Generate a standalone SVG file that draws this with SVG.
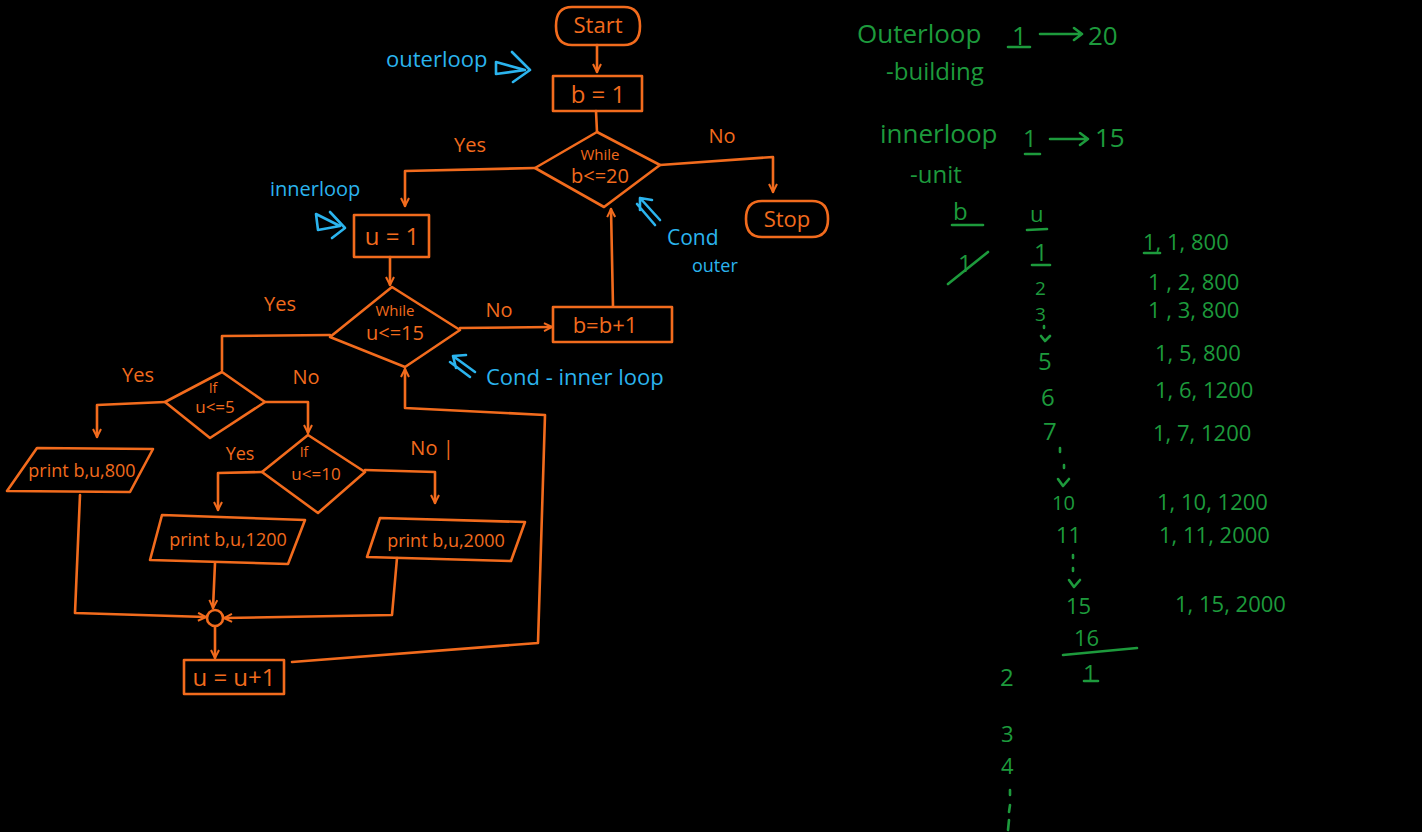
<svg xmlns="http://www.w3.org/2000/svg" width="1422" height="832" viewBox="0 0 1422 832">
<defs>
<style>
.o{fill:none;stroke:#f26b1d;stroke-width:2.6;stroke-linecap:round;stroke-linejoin:round}
.b{fill:none;stroke:#2bb4ee;stroke-width:2.6;stroke-linecap:round;stroke-linejoin:round}
.g{fill:none;stroke:#1d9a3c;stroke-width:2.6;stroke-linecap:round;stroke-linejoin:round}
.to{fill:#f26b1d;font-family:"Open Sans","Liberation Sans",sans-serif;text-anchor:middle}
.tb{fill:#2bb4ee;font-family:"Open Sans","Liberation Sans",sans-serif}
.tg{fill:#1d9a3c;font-family:"Open Sans","Liberation Sans",sans-serif}
</style>
<marker id="ar" viewBox="0 0 10 10" refX="9" refY="5" markerWidth="10" markerHeight="10" markerUnits="userSpaceOnUse" orient="auto">
<path d="M1,1 L9,5 L1,9" fill="none" stroke="#f26b1d" stroke-width="2"/>
</marker>
</defs>
<rect width="1422" height="832" fill="#000"/>

<g id="connectors">
<path class="o" d="M597,45 L597,72" marker-end="url(#ar)"/>
<path class="o" d="M596,111 L597,132"/>
<path class="o" d="M535,168 L405,171 L405,206" marker-end="url(#ar)"/>
<path class="o" d="M660,165 L773,157 L773,192" marker-end="url(#ar)"/>
<path class="o" d="M390,257 L390,285" marker-end="url(#ar)"/>
<path class="o" d="M460,328 L552,327" marker-end="url(#ar)"/>
<path class="o" d="M613,306 L611,209" marker-end="url(#ar)"/>
<path class="o" d="M330,335 L222,336 L222,370"/>
<path class="o" d="M165,402 L97,405 L97,437" marker-end="url(#ar)"/>
<path class="o" d="M265,402 L308,402 L308,433" marker-end="url(#ar)"/>
<path class="o" d="M262,472 L218,473 L218,510" marker-end="url(#ar)"/>
<path class="o" d="M365,470 L435,472 L435,503" marker-end="url(#ar)"/>
<path class="o" d="M80,495 L75,613 L206,617" marker-end="url(#ar)"/>
<path class="o" d="M215,563 L213,608" marker-end="url(#ar)"/>
<path class="o" d="M397,558 L392,615 L224,618" marker-end="url(#ar)"/>
<path class="o" d="M215,627 L215,658" marker-end="url(#ar)"/>
<path class="o" d="M292,662 L538,643 L545,415 L405,408 L405,369" marker-end="url(#ar)"/>
</g>

<g id="start">
<path class="o" d="M572,7 L624,7 Q640,7 640,26 Q640,45 624,45 L572,45 Q556,45 556,26 Q556,7 572,7 Z"/>
<text class="to" x="598" y="33" font-size="22">Start</text>
</g>
<g id="b1">
<rect class="o" x="553" y="76" width="89" height="35"/>
<text class="to" x="598" y="103" font-size="24">b = 1</text>
</g>
<g id="cond_b">
<path class="o" d="M597,132 L660,165 L604,207 L535,168 Z"/>
<text class="to" x="600" y="160" font-size="15">While</text>
<text class="to" x="600" y="183" font-size="20">b&lt;=20</text>
</g>
<g id="stop">
<path class="o" d="M762,201 L812,201 Q828,201 828,219 Q828,237 812,237 L762,237 Q746,237 746,219 Q746,201 762,201 Z"/>
<text class="to" x="787" y="227" font-size="22">Stop</text>
</g>
<g id="u1">
<rect class="o" x="354" y="215" width="75" height="42"/>
<text class="to" x="392" y="245" font-size="24">u = 1</text>
</g>
<g id="cond_u">
<path class="o" d="M392,287 L460,330 L405,367 L330,337 Z"/>
<text class="to" x="395" y="316" font-size="15">While</text>
<text class="to" x="395" y="340" font-size="20">u&lt;=15</text>
</g>
<g id="bb1">
<rect class="o" x="553" y="307" width="119" height="35"/>
<text class="to" x="605" y="333" font-size="22">b=b+1</text>
</g>
<g id="if5">
<path class="o" d="M222,372 L265,402 L210,438 L165,402 Z"/>
<text class="to" x="213" y="393" font-size="14">If</text>
<text class="to" x="215" y="413" font-size="17">u&lt;=5</text>
</g>
<g id="if10">
<path class="o" d="M308,435 L365,472 L318,513 L262,472 Z"/>
<text class="to" x="304" y="457" font-size="14">If</text>
<text class="to" x="316" y="480" font-size="17">u&lt;=10</text>
</g>
<g id="p800">
<path class="o" d="M37,448 L153,449 L130,492 L7,491 Z"/>
<text class="to" x="82" y="477" font-size="18">print b,u,800</text>
</g>
<g id="p1200">
<path class="o" d="M162,515 L305,520 L288,564 L150,560 Z"/>
<text class="to" x="228" y="546" font-size="18">print b,u,1200</text>
</g>
<g id="p2000">
<path class="o" d="M380,518 L525,522 L511,561 L367,557 Z"/>
<text class="to" x="446" y="547" font-size="18">print b,u,2000</text>
</g>
<g id="junction">
<circle class="o" cx="215" cy="618" r="8"/>
</g>
<g id="uu1">
<rect class="o" x="184" y="660" width="100" height="34"/>
<text class="to" x="234" y="686" font-size="24">u = u+1</text>
</g>

<g id="branch_labels">
<text class="to" x="470" y="152" font-size="20">Yes</text>
<text class="to" x="722" y="143" font-size="20">No</text>
<text class="to" x="280" y="311" font-size="20">Yes</text>
<text class="to" x="499" y="317" font-size="20">No</text>
<text class="to" x="138" y="382" font-size="20">Yes</text>
<text class="to" x="306" y="384" font-size="20">No</text>
<text class="to" x="240" y="460" font-size="18">Yes</text>
<text class="to" x="432" y="455" font-size="20">No |</text>
</g>

<g id="blue_notes">
<text class="tb" x="386" y="67" font-size="22">outerloop</text>
<path class="b" d="M496,62 L525,70 L496,74 Z M512,52 L530,70 L513,82"/>
<text class="tb" x="270" y="196" font-size="20">innerloop</text>
<path class="b" d="M316,214 L340,226 L318,230 Z M330,212 L345,228 L332,238"/>
<text class="tb" x="667" y="245" font-size="21">Cond</text>
<text class="tb" x="692" y="272" font-size="18">outer</text>
<path class="b" d="M660,220 L640,198 M640,198 L640,210 M640,198 L652,200 M655,225 L637,204"/>
<text class="tb" x="486" y="385" font-size="22">Cond - inner loop</text>
<path class="b" d="M475,372 L453,356 M453,356 L456,368 M453,356 L466,355 M470,377 L450,362"/>
</g>

<g id="green_notes">
<text class="tg" x="857" y="43" font-size="26">Outerloop</text>
<text class="tg" x="1012" y="45" font-size="26">1</text>
<path class="g" d="M1008,47 L1030,47 M1040,34 L1082,34 M1074,28 L1082,34 L1074,40"/>
<text class="tg" x="1088" y="45" font-size="26">20</text>
<text class="tg" x="886" y="80" font-size="24">-building</text>
<text class="tg" x="880" y="143" font-size="26">innerloop</text>
<text class="tg" x="1023" y="147" font-size="24">1</text>
<path class="g" d="M1025,154 L1040,154 M1050,139 L1088,139 M1080,133 L1088,139 L1080,145"/>
<text class="tg" x="1095" y="147" font-size="26">15</text>
<text class="tg" x="910" y="183" font-size="24">-unit</text>
<text class="tg" x="953" y="220" font-size="24">b</text>
<path class="g" d="M952,225 L983,225"/>
<text class="tg" x="1030" y="222" font-size="22">u</text>
<path class="g" d="M1027,230 L1047,229"/>
<text class="tg" x="958" y="272" font-size="24">1</text>
<path class="g" d="M948,284 L988,252"/>
<text class="tg" x="1034" y="261" font-size="24">1</text>
<path class="g" d="M1032,265 L1050,265"/>
<text class="tg" x="1035" y="295" font-size="19">2</text>
<text class="tg" x="1035" y="321" font-size="19">3</text>
<path class="g" d="M1044,326 L1044,328 M1041,336 L1045,341 L1050,336"/>
<text class="tg" x="1038" y="370" font-size="24">5</text>
<text class="tg" x="1041" y="406" font-size="24">6</text>
<text class="tg" x="1043" y="440" font-size="24">7</text>
<path class="g" d="M1060,448 L1060,452 M1064,465 L1064,468 M1058,479 L1063,486 L1069,479"/>
<text class="tg" x="1052" y="510" font-size="20">10</text>
<text class="tg" x="1056" y="543" font-size="22">11</text>
<path class="g" d="M1073,555 L1073,558 M1073,568 L1073,571 M1069,580 L1074,587 L1080,580"/>
<text class="tg" x="1066" y="614" font-size="22">15</text>
<text class="tg" x="1074" y="646" font-size="22">16</text>
<path class="g" d="M1063,655 L1137,648"/>
<text class="tg" x="1083" y="682" font-size="24">1</text>
<path class="g" d="M1084,681 L1098,681"/>
<text class="tg" x="1000" y="686" font-size="24">2</text>
<text class="tg" x="1001" y="742" font-size="22">3</text>
<text class="tg" x="1001" y="774" font-size="22">4</text>
<path class="g" d="M1010,790 L1010,795 M1010,805 L1009,812 M1009,820 L1008,830"/>
<text class="tg" x="1143" y="250" font-size="22">1, 1, 800</text>
<path class="g" d="M1144,253 L1160,253"/>
<text class="tg" x="1148" y="290" font-size="22">1 , 2, 800</text>
<text class="tg" x="1148" y="318" font-size="22">1 , 3, 800</text>
<text class="tg" x="1155" y="361" font-size="22">1, 5, 800</text>
<text class="tg" x="1155" y="398" font-size="22">1, 6,  1200</text>
<text class="tg" x="1153" y="441" font-size="22">1, 7,  1200</text>
<text class="tg" x="1157" y="510" font-size="22">1, 10, 1200</text>
<text class="tg" x="1159" y="543" font-size="22">1, 11,  2000</text>
<text class="tg" x="1175" y="612" font-size="22">1, 15, 2000</text>
</g>
</svg>
